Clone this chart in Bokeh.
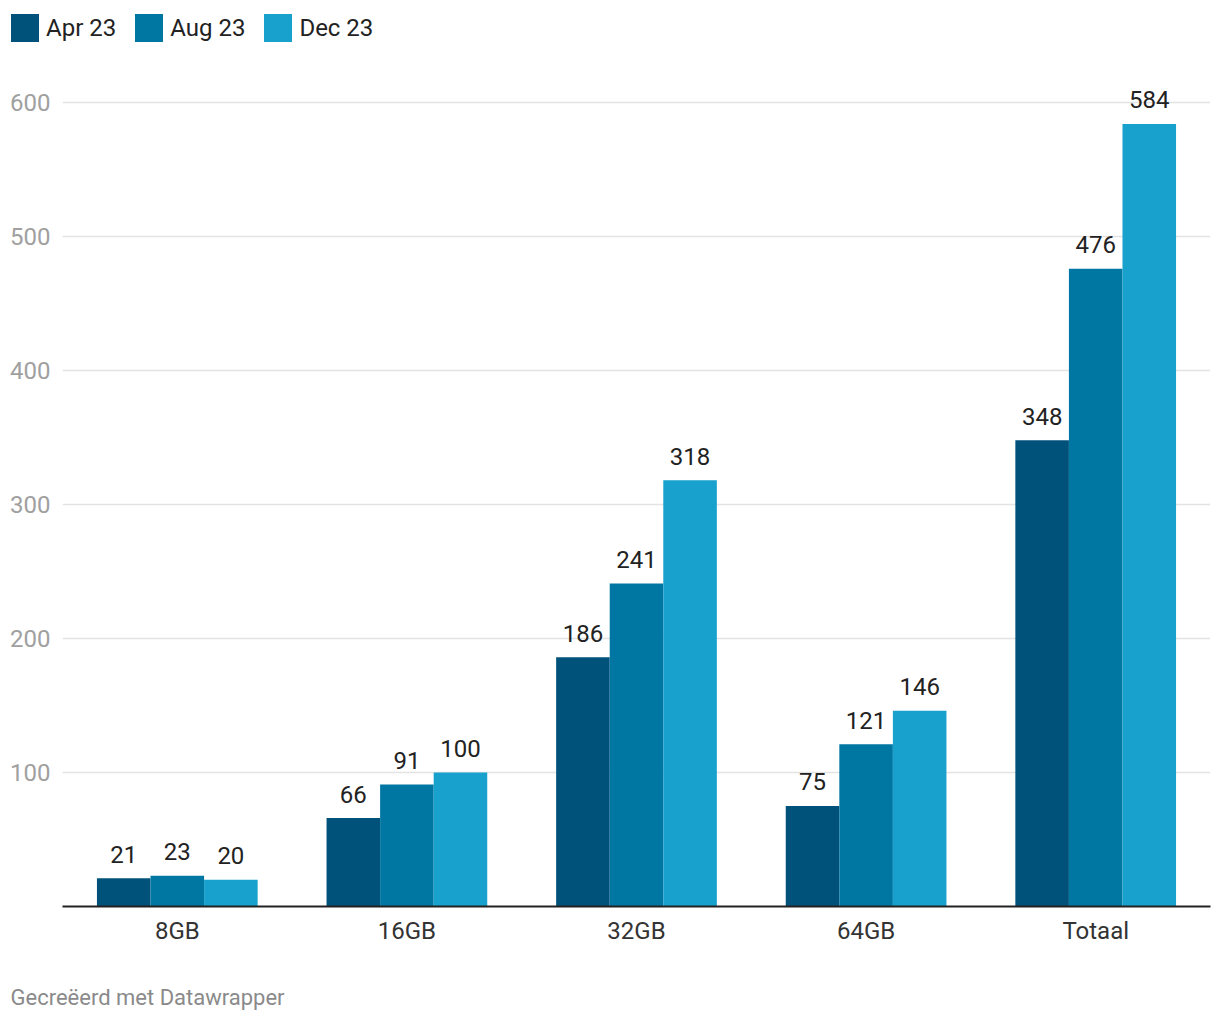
from bokeh.plotting import figure
from bokeh.layouts import column
from bokeh.models import (ColumnDataSource, FactorRange, FixedTicker, Legend, LegendItem, Label,
                          Range1d)
from bokeh.transform import dodge
from bokeh.core.properties import value
from bokeh.embed import file_html
from bokeh.resources import INLINE

categories = ["8GB", "16GB", "32GB", "64GB", "Totaal"]
series = ["Apr 23", "Aug 23", "Dec 23"]
apr23 = [21, 66, 186, 75, 348]
aug23 = [23, 91, 241, 121, 476]
dec23 = [20, 100, 318, 146, 584]
y_ticks = [100, 200, 300, 400, 500, 600]
colors = ["#00527b", "#0077a3", "#18a1cd"]
footer = "Gecreëerd met Datawrapper"

FONT = "Roboto"
FS = "24px"

src = ColumnDataSource(dict(
    cat=categories,
    apr=apr23, aug=aug23, dec=dec23,
    apr_t=[str(v) for v in apr23],
    aug_t=[str(v) for v in aug23],
    dec_t=[str(v) for v in dec23],
))

bw = 0.2333
offsets = [-bw, 0.0, bw]
cols = ["apr", "aug", "dec"]


def strip(height):
    f = figure(x_range=Range1d(0, 1), y_range=Range1d(0, 1), width=1212, height=height,
               output_backend="svg", toolbar_location=None,
               x_axis_location=None, y_axis_location=None,
               min_border_left=0, min_border_right=0, min_border_top=0, min_border_bottom=0)
    f.grid.visible = False
    f.outline_line_color = None
    f.frame_align = False
    return f


# ---- legend strip (zero-height bars: they only supply the legend swatches) ----
lg = figure(
    x_range=FactorRange(*categories), y_range=Range1d(0, 700),
    width=1212, height=56, output_backend="svg", toolbar_location=None,
    x_axis_location=None, y_axis_location=None,
    min_border_left=0, min_border_right=0, min_border_top=0, min_border_bottom=0,
)
lg.grid.visible = False
lg.outline_line_color = None
lg.frame_align = False
lg_renderers = []
for off, c, col in zip(offsets, cols, colors):
    lg_renderers.append(lg.vbar(x=dodge("cat", off, range=lg.x_range), top=c, bottom=c,
                                width=bw, source=src, fill_color=col, line_color=None))
legend = Legend(
    items=[LegendItem(label=s, renderers=[r]) for s, r in zip(series, lg_renderers)],
    orientation="horizontal", location=(7, 11),
    glyph_width=35, glyph_height=35, label_standoff=4, spacing=15,
    padding=0, margin=0, border_line_color=None, background_fill_alpha=0,
    label_text_font=FONT, label_text_font_size=FS, label_text_color="#222222",
)
lg.add_layout(legend, "center")

# ---- main chart ----
p = figure(
    x_range=FactorRange(*categories), y_range=Range1d(0, 634.3),
    width=1212, height=900, output_backend="svg", toolbar_location=None,
    min_border_left=62, min_border_right=2, min_border_top=0, min_border_bottom=50,
)
p.outline_line_color = None
p.background_fill_color = "white"
p.frame_align = False

for off, c, col in zip(offsets, cols, colors):
    p.vbar(x=dodge("cat", off, range=p.x_range), top=c, width=bw, source=src,
           fill_color=col, line_color=None)
    p.text(x=dodge("cat", off, range=p.x_range), y=c, text=c + "_t", source=src,
           text_align="center", text_baseline="alphabetic", y_offset=-24,
           text_font=value(FONT), text_font_size=FS, text_color="#222222")

p.xaxis.axis_line_color = "#222222"
p.xaxis.axis_line_width = 2
p.xaxis.major_tick_line_color = None
p.xaxis.minor_tick_line_color = None
p.xaxis.major_label_text_font = FONT
p.xaxis.major_label_text_font_size = FS
p.xaxis.major_label_text_color = "#333333"
p.xaxis.major_label_standoff = 4
p.xgrid.grid_line_color = None

p.yaxis.ticker = FixedTicker(ticks=y_ticks)
p.yaxis.axis_line_color = None
p.yaxis.major_tick_line_color = None
p.yaxis.minor_tick_line_color = None
p.yaxis.major_label_text_font = FONT
p.yaxis.major_label_text_font_size = FS
p.yaxis.major_label_text_color = "#a0a0a0"
p.yaxis.major_label_standoff = 6
p.ygrid.grid_line_color = "#e3e3e3"
p.ygrid.grid_line_width = 1.5

# ---- footer strip ----
ft = strip(56)
ft.add_layout(Label(x=10, y=15, x_units="screen", y_units="screen", text=footer,
                    text_font=FONT, text_font_size="22px", text_color="#8a8a8a",
                    text_baseline="alphabetic", text_align="left"))

open("out.html", "w").write(file_html(column(lg, p, ft, spacing=0), INLINE))
